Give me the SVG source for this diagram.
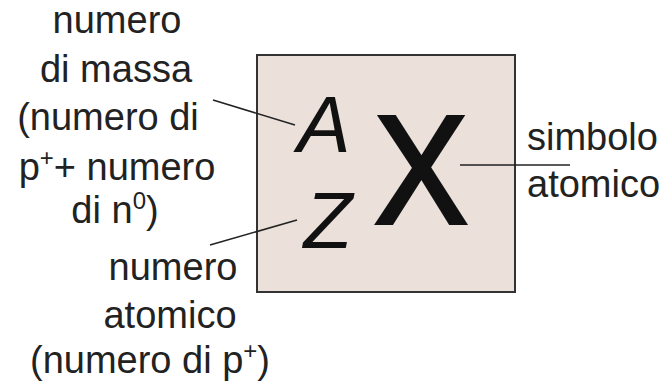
<svg xmlns="http://www.w3.org/2000/svg" width="667" height="384" viewBox="0 0 667 384">
<style>
.t{font-family:"Liberation Sans",Arial,sans-serif;font-size:38px;fill:#222}
.sup{font-size:24px}
.sym{font-family:"Liberation Sans",Arial,sans-serif;fill:#111}
.ln{stroke:#222;stroke-width:1.6;fill:none}
</style>
<rect width="667" height="384" fill="#fff"/>
<g id="box">
<rect x="257" y="55" width="258" height="237" fill="#ebe0da" stroke="#333" stroke-width="2"/>
<text class="sym" x="324" y="152" font-size="80" font-style="italic" text-anchor="middle">A</text>
<text class="sym" x="328" y="248" font-size="80" font-style="italic" text-anchor="middle">Z</text>
<text class="sym" x="421" y="223" font-size="154" text-anchor="middle" textLength="93" lengthAdjust="spacingAndGlyphs" stroke="#111" stroke-width="4">X</text>
</g>
<g id="mass-label">
<text class="t" x="117" y="33" text-anchor="middle">numero</text>
<text class="t" x="116" y="82" text-anchor="middle">di massa</text>
<text class="t" x="108" y="130" text-anchor="middle">(numero di</text>
<text class="t" x="117" y="180" text-anchor="middle">p<tspan class="sup" dy="-14">+</tspan><tspan dy="14">+ numero</tspan></text>
<text class="t" x="115" y="223" text-anchor="middle">di n<tspan class="sup" dy="-14">0</tspan><tspan dy="14">)</tspan></text>
</g>
<g id="atomic-number-label">
<text class="t" x="173" y="280" text-anchor="middle">numero</text>
<text class="t" x="170" y="328" text-anchor="middle">atomico</text>
<text class="t" x="150" y="373" text-anchor="middle">(numero di p<tspan class="sup" dy="-14">+</tspan><tspan dy="14">)</tspan></text>
</g>
<g id="symbol-label">
<text class="t" x="527" y="150">simbolo</text>
<text class="t" x="527" y="197">atomico</text>
</g>
<g id="connectors">
<line class="ln" x1="213" y1="100" x2="295" y2="125"/>
<line class="ln" x1="210" y1="245" x2="297" y2="220"/>
<line class="ln" x1="460" y1="165" x2="570" y2="165"/>
</g>
</svg>
